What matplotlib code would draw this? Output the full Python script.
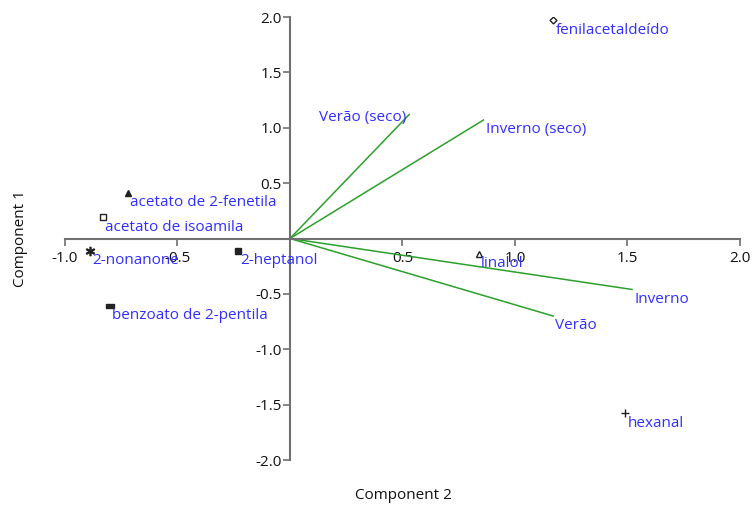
import matplotlib.pyplot as plt
from matplotlib.path import Path

# Scores (Component 2 no eixo x, Component 1 no eixo y)
compostos = ["acetato de 2-fenetila", "acetato de isoamila", "2-nonanone",
             "2-heptanol", "benzoato de 2-pentila", "linalol",
             "fenilacetaldeído", "hexanal"]
comp2 = [-0.72, -0.83, -0.89, -0.23, -0.80, 0.84, 1.17, 1.49]
comp1 = [0.41, 0.19, -0.11, -0.11, -0.61, -0.14, 1.97, -1.58]
marcadores = ["^", "s", "$*$", "s", "barra", "^", "D", "+"]
preenchido = [True, False, True, True, True, False, False, True]

# Loadings
estacoes = ["Verão (seco)", "Inverno (seco)", "Inverno", "Verão"]
load2 = [0.53, 0.86, 1.52, 1.17]
load1 = [1.12, 1.07, -0.46, -0.70]

azul = "#2f2fff"
verde = "#2ca02c"
cinza = "#707070"

# marcador retangular achatado (benzoato)
barra = Path([(-1, -0.45), (1, -0.45), (1, 0.45), (-1, 0.45), (-1, -0.45)],
             [Path.MOVETO, Path.LINETO, Path.LINETO, Path.LINETO, Path.CLOSEPOLY])

plt.rcParams['font.family'] = ['Open Sans', 'DejaVu Sans']

fig = plt.figure(figsize=(7.52, 5.11), dpi=100)
ax = fig.add_axes([0.0864, 0.0998, 0.8976, 0.8669])
ax.set_xlim(-1.0, 2.0)
ax.set_ylim(-2.0, 2.0)

# linhas dos loadings
for nome, x, y in zip(estacoes, load2, load1):
    ax.plot([0, x], [0, y], color=verde, lw=1.1, zorder=2)
    if nome == "Verão (seco)":
        ax.text(x - 0.015, y - 0.03, nome, color=azul, fontsize=11,
                ha="right", va="center")
    else:
        ax.text(x + 0.01, y - 0.02, nome, color=azul, fontsize=11,
                ha="left", va="top")

# pontos dos compostos
for nome, x, y, m, f in zip(compostos, comp2, comp1, marcadores, preenchido):
    tam = 4
    if m == "$*$":
        tam = 6
    elif m == "D":
        tam = 3.5
    elif m == "+":
        tam = 6
    elif m == "barra":
        m = barra
        tam = 6
    ax.plot(x, y, marker=m, ms=tam, color="#222222",
            mfc="#222222" if f else "white", mew=1.0, ls="none", zorder=3)
    ax.text(x + 0.01, y - 0.02, nome, color=azul, fontsize=11,
            ha="left", va="top", zorder=4)

# eixos cruzando na origem
ax.spines["left"].set_position(("data", 0))
ax.spines["bottom"].set_position(("data", 0))
ax.spines["top"].set_visible(False)
ax.spines["right"].set_visible(False)
for s in ["left", "bottom"]:
    ax.spines[s].set_color(cinza)
    ax.spines[s].set_linewidth(1.5)

ax.set_xticks([-1.0, -0.5, 0.5, 1.0, 1.5, 2.0])
ax.set_yticks([-2.0, -1.5, -1.0, -0.5, 0.5, 1.0, 1.5, 2.0])
ax.xaxis.set_major_formatter(plt.FormatStrFormatter("%.1f"))
ax.yaxis.set_major_formatter(plt.FormatStrFormatter("%.1f"))
ax.tick_params(axis="both", color=cinza, width=1.2, length=5,
               labelsize=11, labelcolor="#111111", direction="out", pad=1)
ax.tick_params(axis="x", pad=4)

fig.text(0.536, 0.015, "Component 2", ha="center", va="bottom", fontsize=11,
         color="#111111")
fig.text(0.027, 0.534, "Component 1", ha="center", va="center", fontsize=11,
         rotation=90, color="#111111")

fig.savefig("out.png", dpi=100)
